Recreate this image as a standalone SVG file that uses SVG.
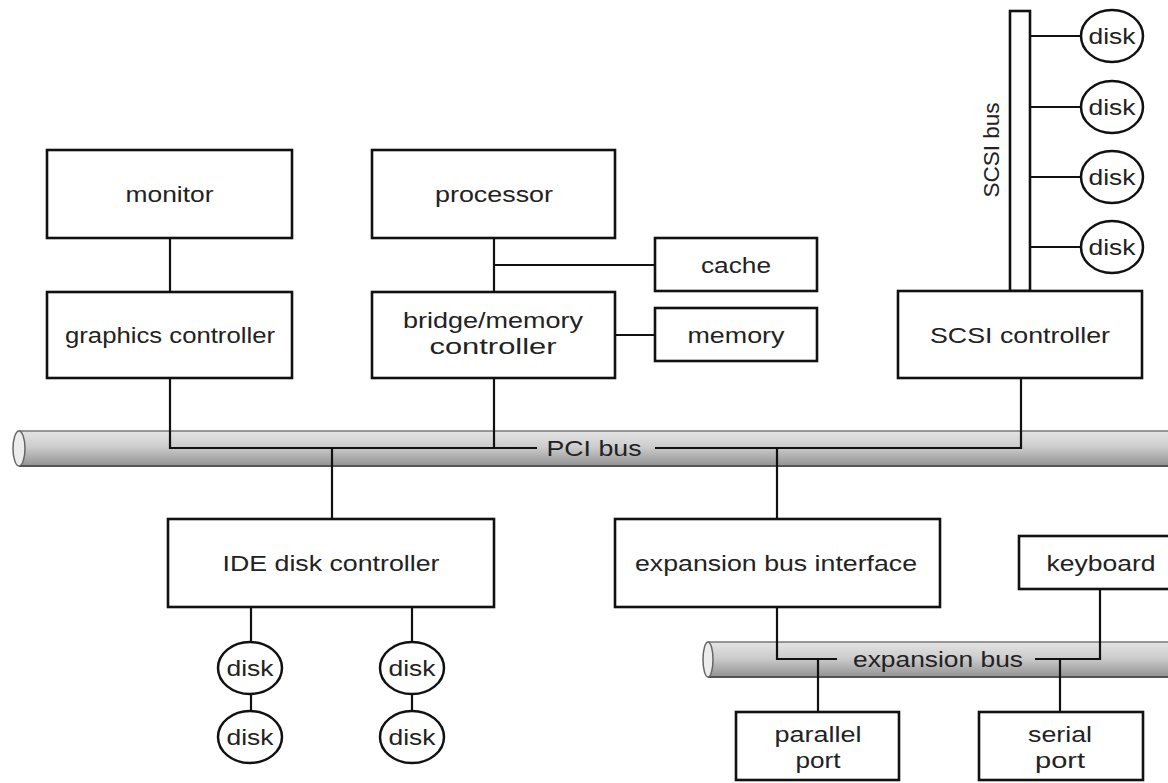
<svg xmlns="http://www.w3.org/2000/svg" width="1168" height="783" viewBox="0 0 1168 783">
<defs>
<linearGradient id="cyl" x1="0" y1="0" x2="0" y2="1">
<stop offset="0" stop-color="#e4e4e4"/>
<stop offset="0.45" stop-color="#cdcdcd"/>
<stop offset="1" stop-color="#929292"/>
</linearGradient>
<style>
.box{fill:#fff;stroke:#111;stroke-width:2.6}
.disk{fill:#fff;stroke:#111;stroke-width:2.5}
.ln{fill:none;stroke:#111;stroke-width:2.2}
.t{font-family:"Liberation Sans",Arial,sans-serif;font-size:22px;fill:#222;text-anchor:middle}
.cylbody{fill:url(#cyl);stroke:none}
.cyledge{stroke:#777;stroke-width:1.5;fill:none}
.cylbot{stroke:#555;stroke-width:2;fill:none}
</style>
</defs>
<rect width="1168" height="783" fill="#fff"/>

<g id="pci-bus">
<rect class="cylbody" x="19" y="431" width="1155" height="35"/>
<line class="cyledge" x1="19" y1="431" x2="1174" y2="431"/>
<line class="cylbot" x1="19" y1="466" x2="1174" y2="466"/>
<ellipse cx="19" cy="448.5" rx="6" ry="17.5" fill="#ececec" stroke="#666" stroke-width="1.5"/>
<text class="t" x="594" y="456" textLength="95" lengthAdjust="spacingAndGlyphs">PCI bus</text>
</g>

<g id="expansion-bus">
<rect class="cylbody" x="708" y="642" width="466" height="35"/>
<line class="cyledge" x1="708" y1="642" x2="1174" y2="642"/>
<line class="cylbot" x1="708" y1="677" x2="1174" y2="677"/>
<ellipse cx="708" cy="659.5" rx="5" ry="17.5" fill="#ececec" stroke="#666" stroke-width="1.5"/>
<text class="t" x="938" y="667" textLength="170" lengthAdjust="spacingAndGlyphs">expansion bus</text>
</g>

<g id="connectors">
<polyline class="ln" points="170,238 170,292"/>
<polyline class="ln" points="170,378 170,448 537,448"/>
<polyline class="ln" points="494,378 494,448"/>
<polyline class="ln" points="655,448 1021,448 1021,378"/>
<polyline class="ln" points="332,448 332,519"/>
<polyline class="ln" points="777,448 777,519"/>
<polyline class="ln" points="494,238 494,292"/>
<polyline class="ln" points="494,265 655,265"/>
<polyline class="ln" points="615,335 655,335"/>
<polyline class="ln" points="251,607 251,642"/>
<polyline class="ln" points="251,694 251,711"/>
<polyline class="ln" points="412,607 412,642"/>
<polyline class="ln" points="412,694 412,711"/>
<polyline class="ln" points="777,607 777,659 837,659"/>
<polyline class="ln" points="818,659 818,712"/>
<polyline class="ln" points="1035,659 1100,659 1100,589"/>
<polyline class="ln" points="1060,659 1060,712"/>
<polyline class="ln" points="1030,36 1081,36"/>
<polyline class="ln" points="1030,107 1081,107"/>
<polyline class="ln" points="1030,177 1081,177"/>
<polyline class="ln" points="1030,247 1081,247"/>
</g>

<g id="monitor">
<rect class="box" x="47" y="150" width="245" height="88"/>
<text class="t" x="169.5" y="202" textLength="88" lengthAdjust="spacingAndGlyphs">monitor</text>
</g>
<g id="graphics-controller">
<rect class="box" x="47" y="292" width="245" height="86"/>
<text class="t" x="170" y="343" textLength="210" lengthAdjust="spacingAndGlyphs">graphics controller</text>
</g>
<g id="processor">
<rect class="box" x="372" y="150" width="243" height="88"/>
<text class="t" x="494" y="202" textLength="118" lengthAdjust="spacingAndGlyphs">processor</text>
</g>
<g id="cache">
<rect class="box" x="655" y="238" width="162" height="53"/>
<text class="t" x="736" y="272.5" textLength="70" lengthAdjust="spacingAndGlyphs">cache</text>
</g>
<g id="bridge-memory-controller">
<rect class="box" x="372" y="292" width="243" height="86"/>
<text class="t" x="493" y="328" textLength="180" lengthAdjust="spacingAndGlyphs">bridge/memory</text>
<text class="t" x="493" y="354" textLength="127" lengthAdjust="spacingAndGlyphs">controller</text>
</g>
<g id="memory">
<rect class="box" x="655" y="308" width="162" height="53"/>
<text class="t" x="736" y="342.5" textLength="97" lengthAdjust="spacingAndGlyphs">memory</text>
</g>
<g id="scsi-bus">
<rect class="box" x="1010" y="11" width="20" height="280"/>
<text class="t" transform="translate(999,150) rotate(-90)" x="0" y="0" textLength="95" lengthAdjust="spacingAndGlyphs">SCSI bus</text>
</g>
<g id="scsi-disk-1">
<ellipse class="disk" cx="1112" cy="36" rx="31" ry="26"/>
<text class="t" x="1112" y="44" textLength="47" lengthAdjust="spacingAndGlyphs">disk</text>
</g>
<g id="scsi-disk-2">
<ellipse class="disk" cx="1112" cy="107" rx="31" ry="26"/>
<text class="t" x="1112" y="115" textLength="47" lengthAdjust="spacingAndGlyphs">disk</text>
</g>
<g id="scsi-disk-3">
<ellipse class="disk" cx="1112" cy="177" rx="31" ry="26"/>
<text class="t" x="1112" y="185" textLength="47" lengthAdjust="spacingAndGlyphs">disk</text>
</g>
<g id="scsi-disk-4">
<ellipse class="disk" cx="1112" cy="247" rx="31" ry="26"/>
<text class="t" x="1112" y="255" textLength="47" lengthAdjust="spacingAndGlyphs">disk</text>
</g>
<g id="scsi-controller">
<rect class="box" x="898" y="291" width="244" height="87"/>
<text class="t" x="1020" y="343" textLength="180" lengthAdjust="spacingAndGlyphs">SCSI controller</text>
</g>
<g id="ide-disk-controller">
<rect class="box" x="168" y="519" width="326" height="88"/>
<text class="t" x="331" y="571" textLength="217" lengthAdjust="spacingAndGlyphs">IDE disk controller</text>
</g>
<g id="ide-disk-1">
<ellipse class="disk" cx="250" cy="668" rx="32" ry="26"/>
<text class="t" x="250" y="676" textLength="47" lengthAdjust="spacingAndGlyphs">disk</text>
</g>
<g id="ide-disk-2">
<ellipse class="disk" cx="250" cy="737" rx="32" ry="26"/>
<text class="t" x="250" y="745" textLength="47" lengthAdjust="spacingAndGlyphs">disk</text>
</g>
<g id="ide-disk-3">
<ellipse class="disk" cx="412" cy="668" rx="32" ry="26"/>
<text class="t" x="412" y="676" textLength="47" lengthAdjust="spacingAndGlyphs">disk</text>
</g>
<g id="ide-disk-4">
<ellipse class="disk" cx="412" cy="737" rx="32" ry="26"/>
<text class="t" x="412" y="745" textLength="47" lengthAdjust="spacingAndGlyphs">disk</text>
</g>
<g id="expansion-bus-interface">
<rect class="box" x="615" y="519" width="325" height="88"/>
<text class="t" x="776" y="571" textLength="282" lengthAdjust="spacingAndGlyphs">expansion bus interface</text>
</g>
<g id="keyboard">
<rect class="box" x="1019" y="536" width="160" height="53"/>
<text class="t" x="1101" y="570.5" textLength="109" lengthAdjust="spacingAndGlyphs">keyboard</text>
</g>
<g id="parallel-port">
<rect class="box" x="736" y="712" width="163" height="68"/>
<text class="t" x="818" y="742" textLength="87" lengthAdjust="spacingAndGlyphs">parallel</text>
<text class="t" x="818" y="768" textLength="45" lengthAdjust="spacingAndGlyphs">port</text>
</g>
<g id="serial-port">
<rect class="box" x="979" y="712" width="164" height="68"/>
<text class="t" x="1060" y="742" textLength="64" lengthAdjust="spacingAndGlyphs">serial</text>
<text class="t" x="1060" y="768" textLength="50" lengthAdjust="spacingAndGlyphs">port</text>
</g>
</svg>
